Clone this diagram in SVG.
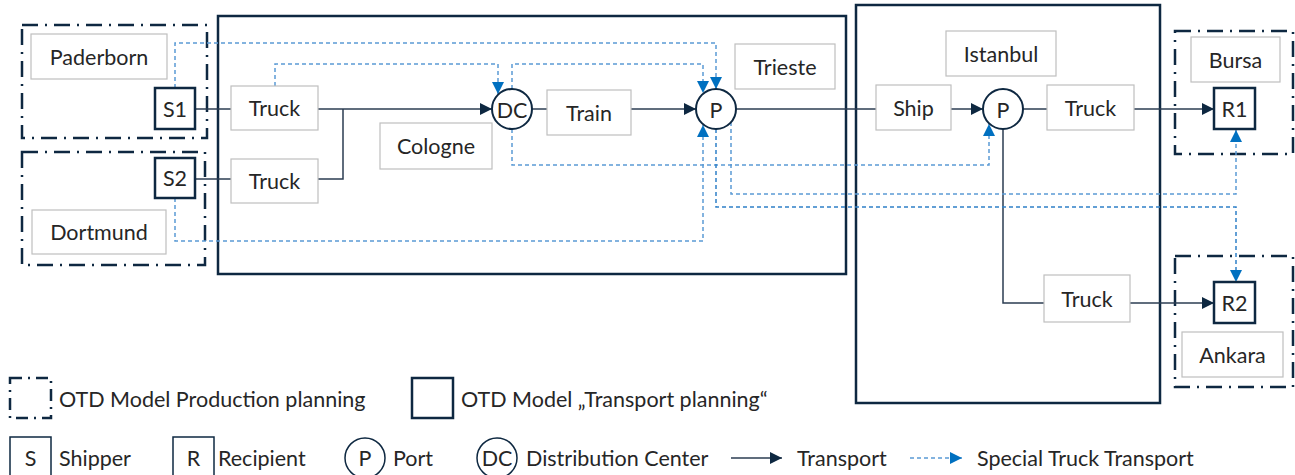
<svg xmlns="http://www.w3.org/2000/svg" width="1295" height="475" viewBox="0 0 1295 475">
<style>
text{font-family:Lato,"Liberation Sans",sans-serif;font-size:21.5px;fill:#262626;text-anchor:middle;dominant-baseline:central}
.lbl{fill:#fff;stroke:#bfbfbf;stroke-width:1.2}
.dd{fill:none;stroke:#0e2841;stroke-width:2.5;stroke-dasharray:16 7 2 7}
.big{fill:none;stroke:#0e2841;stroke-width:2.5}
.node{fill:#fff;stroke:#0e2841;stroke-width:2.5}
.circ{fill:#fff;stroke:#0e2841;stroke-width:2}
.sol{fill:none;stroke:#2b3d52;stroke-width:1.5}
.dsh{fill:none;stroke:#5b9bd5;stroke-width:1.5;stroke-dasharray:4 3}
.lt{text-anchor:start}
</style>
<defs>
<marker id="ah" markerWidth="12" markerHeight="12" refX="12" refY="6" orient="auto" markerUnits="userSpaceOnUse"><path d="M0,0 L12,6 L0,12 Z" fill="#0e2841"/></marker>
<marker id="bh" markerWidth="12" markerHeight="12" refX="12" refY="6" orient="auto" markerUnits="userSpaceOnUse"><path d="M0,0 L12,6 L0,12 Z" fill="#0070c0"/></marker>
</defs>

<g id="regions">
<rect class="dd" x="22" y="25" width="185" height="113"/>
<rect class="dd" x="22" y="152" width="183" height="113"/>
<rect class="dd" x="1175" y="31" width="118" height="123"/>
<rect class="dd" x="1175" y="256" width="118" height="131"/>
<rect class="big" x="218" y="16" width="628" height="258"/>
<rect class="big" x="856" y="5" width="304" height="398"/>
</g>

<g id="connectors">
<path class="sol" d="M195,109 H231"/>
<path class="sol" d="M195,179 H231"/>
<path class="sol" d="M318,179 H343 V109"/>
<path class="sol" d="M318,109 H492" marker-end="url(#ah)"/>
<path class="sol" d="M532,109 H547"/>
<path class="sol" d="M631,109 H696" marker-end="url(#ah)"/>
<path class="sol" d="M736,109 H876"/>
<path class="sol" d="M951,109 H983" marker-end="url(#ah)"/>
<path class="sol" d="M1023,109 H1047"/>
<path class="sol" d="M1134,109 H1214" marker-end="url(#ah)"/>
<path class="sol" d="M1003,129 V303 H1044"/>
<path class="sol" d="M1130,303 H1214" marker-end="url(#ah)"/>

<path class="dsh" d="M175,88 V43 H716 V89" marker-end="url(#bh)"/>
<path class="dsh" d="M275,86 V64 H498 V94" marker-end="url(#bh)"/>
<path class="dsh" d="M512,89 V64 H703 V93" marker-end="url(#bh)"/>
<path class="dsh" d="M175,198 V241 H703 V125" marker-end="url(#bh)"/>
<path class="dsh" d="M512,129 V165 H989 V124" marker-end="url(#bh)"/>
<path class="dsh" d="M731,122 V194 H1236 V130" marker-end="url(#bh)"/>
<path class="dsh" d="M716,129 V207 H1236 V282" marker-end="url(#bh)" style="stroke:#2f80c8"/>
</g>

<g id="paderborn"><rect class="lbl" x="31" y="34" width="136" height="45"/><text x="99" y="57">Paderborn</text></g>
<g id="dortmund"><rect class="lbl" x="32" y="210" width="134" height="44"/><text x="99" y="232">Dortmund</text></g>
<g id="s1"><rect class="node" x="155" y="88" width="40" height="41"/><text x="175" y="109">S1</text></g>
<g id="s2"><rect class="node" x="155" y="158" width="40" height="40"/><text x="175" y="178">S2</text></g>
<g id="truck1"><rect class="lbl" x="231" y="86" width="87" height="44"/><text x="274.5" y="108">Truck</text></g>
<g id="truck2"><rect class="lbl" x="231" y="159" width="87" height="44"/><text x="274.5" y="181">Truck</text></g>
<g id="cologne"><rect class="lbl" x="380" y="123" width="112" height="46"/><text x="436" y="146">Cologne</text></g>
<g id="dc"><circle class="circ" cx="512" cy="109" r="20"/><text x="512" y="110">DC</text></g>
<g id="train"><rect class="lbl" x="547" y="90" width="84" height="45"/><text x="589" y="113">Train</text></g>
<g id="p1"><circle class="circ" cx="716" cy="109" r="20"/><text x="716" y="110">P</text></g>
<g id="trieste"><rect class="lbl" x="735" y="44" width="100" height="45"/><text x="785" y="67">Trieste</text></g>
<g id="istanbul"><rect class="lbl" x="946" y="31" width="110" height="45"/><text x="1001" y="54">Istanbul</text></g>
<g id="ship"><rect class="lbl" x="876" y="85" width="75" height="45"/><text x="913.5" y="108">Ship</text></g>
<g id="p2"><circle class="circ" cx="1003" cy="109" r="20"/><text x="1003" y="110">P</text></g>
<g id="truck3"><rect class="lbl" x="1047" y="85" width="87" height="45"/><text x="1090.5" y="108">Truck</text></g>
<g id="truck4"><rect class="lbl" x="1044" y="275" width="86" height="47"/><text x="1087" y="299">Truck</text></g>
<g id="bursa"><rect class="lbl" x="1191" y="37" width="89" height="45"/><text x="1235.5" y="60">Bursa</text></g>
<g id="r1"><rect class="node" x="1214" y="88" width="41" height="41"/><text x="1234.5" y="109">R1</text></g>
<g id="r2"><rect class="node" x="1214" y="282" width="41" height="41"/><text x="1234.5" y="303">R2</text></g>
<g id="ankara"><rect class="lbl" x="1182" y="332" width="101" height="45"/><text x="1232.5" y="355">Ankara</text></g>

<g id="legend">
<rect class="dd" x="10" y="378" width="41" height="40" style="stroke-dasharray:12 6 2 6"/>
<text class="lt" x="59" y="399">OTD Model Production planning</text>
<rect class="big" x="412" y="378" width="41" height="40"/>
<text class="lt" x="461" y="399">OTD Model „Transport planning“</text>
<rect fill="none" stroke="#0e2841" stroke-width="1.5" x="10" y="437" width="41" height="45"/>
<text x="30.5" y="458">S</text>
<text class="lt" x="59" y="458">Shipper</text>
<rect fill="none" stroke="#0e2841" stroke-width="1.5" x="173" y="437" width="41" height="45"/>
<text x="193.5" y="458">R</text>
<text class="lt" x="218" y="458">Recipient</text>
<circle fill="none" stroke="#0e2841" stroke-width="1.5" cx="365" cy="458" r="20"/>
<text x="365" y="458">P</text>
<text class="lt" x="393" y="458">Port</text>
<circle fill="none" stroke="#0e2841" stroke-width="1.5" cx="497" cy="458" r="20"/>
<text x="497" y="458">DC</text>
<text class="lt" x="526" y="458">Distribution Center</text>
<path class="sol" d="M731,458 H782" marker-end="url(#ah)"/>
<text class="lt" x="797" y="458">Transport</text>
<path class="dsh" d="M910,458 H962" marker-end="url(#bh)"/>
<text class="lt" x="977" y="458">Special Truck Transport</text>
</g>
</svg>
